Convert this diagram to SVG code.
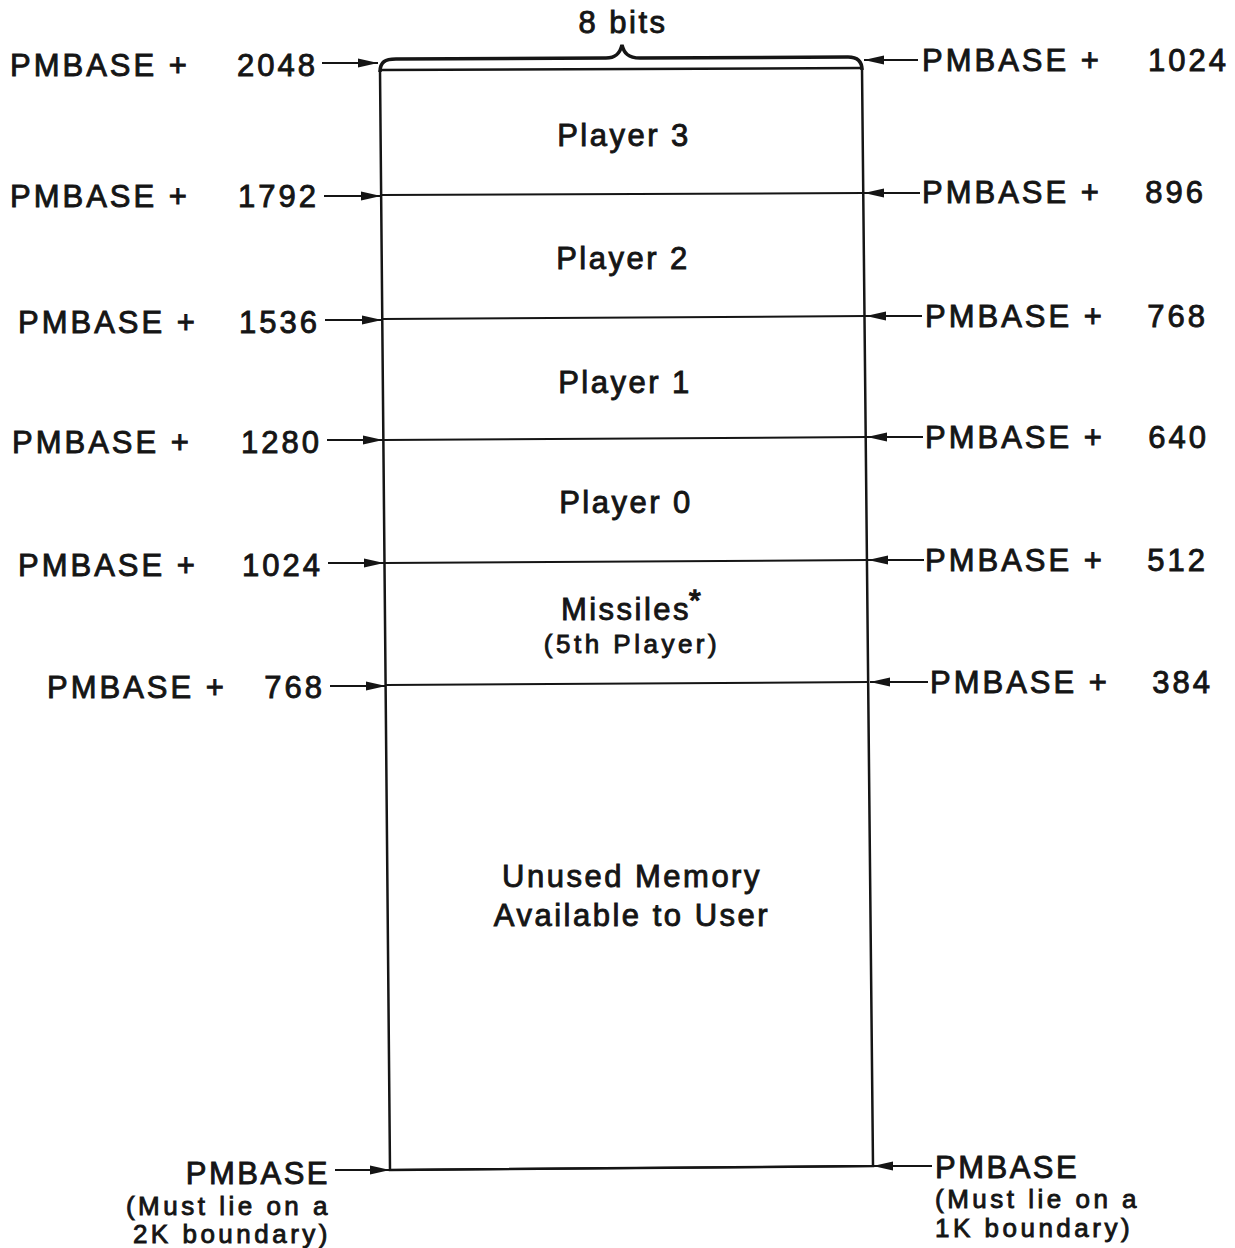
<svg xmlns="http://www.w3.org/2000/svg" width="1235" height="1248" viewBox="0 0 1235 1248">
<defs>
<style>
.t{font-family:"Liberation Sans",Arial,sans-serif;font-size:31px;fill:#151515;stroke:#151515;stroke-width:0.9;letter-spacing:3px}
.c{letter-spacing:2.5px}
.s{font-size:26px;letter-spacing:3.5px}
.e{text-anchor:end}
.m{text-anchor:middle}
.ln{stroke:#151515;stroke-width:2;fill:none}
.bx{stroke:#151515;stroke-width:2.5;fill:none}
</style>
<marker id="ah" viewBox="0 0 20 10" refX="20" refY="5" markerWidth="20" markerHeight="10" markerUnits="userSpaceOnUse" orient="auto">
<path d="M0,0.5 L20,5 L0,9.5 Z" fill="#151515"/>
</marker>
</defs>
<rect width="1235" height="1248" fill="#fff"/>

<g id="memory-box">
<path class="bx" d="M380,70 L390,1170 L873,1166 L862,68"/>
<path class="bx" d="M380,70 L862,68"/>
<path d="M380,72 C380,62 385,59 396,59 L606,58 C616,58 620,53 622,45 C624,53 628,58 640,58 L848,57 C858,57 862,62 862,70" stroke="#151515" stroke-width="3.5" fill="none"/>
<text class="t m c" x="623" y="33">8 bits</text>
</g>

<g id="player3"><text class="t m c" x="624" y="146">Player 3</text></g>
<g id="player2"><text class="t m c" x="623" y="269">Player 2</text></g>
<g id="player1"><text class="t m c" x="625" y="393">Player 1</text></g>
<g id="player0"><text class="t m c" x="626" y="513">Player 0</text></g>
<g id="missiles">
<text class="t m c" x="626" y="620">Missiles</text>
<text class="t" x="689" y="610" style="font-size:30px;stroke-width:1.4">*</text>
<text class="t m s" x="632" y="653">(5th Player)</text>
</g>
<g id="unused">
<text class="t m c" x="632" y="887">Unused Memory</text>
<text class="t m c" x="632" y="926">Available to User</text>
</g>

<g id="connectors">
<path class="ln" d="M381,195 L864,193"/>
<path class="ln" d="M382,319 L866,316"/>
<path class="ln" d="M383,440 L867,437"/>
<path class="ln" d="M384,563 L868,560"/>
<path class="ln" d="M386,685 L869,682"/>
<path class="ln" d="M390,1170 L873,1166"/>

<path class="ln" marker-end="url(#ah)" d="M322,63 L378,63"/>
<path class="ln" marker-end="url(#ah)" d="M324,196 L381,196"/>
<path class="ln" marker-end="url(#ah)" d="M325,320 L382,320"/>
<path class="ln" marker-end="url(#ah)" d="M327,440 L383,440"/>
<path class="ln" marker-end="url(#ah)" d="M328,563 L384,563"/>
<path class="ln" marker-end="url(#ah)" d="M330,686 L386,686"/>
<path class="ln" marker-end="url(#ah)" d="M335,1170 L390,1170"/>

<path class="ln" marker-end="url(#ah)" d="M918,60 L864,60"/>
<path class="ln" marker-end="url(#ah)" d="M920,193 L864,193"/>
<path class="ln" marker-end="url(#ah)" d="M922,316 L866,316"/>
<path class="ln" marker-end="url(#ah)" d="M923,437 L867,437"/>
<path class="ln" marker-end="url(#ah)" d="M924,560 L868,560"/>
<path class="ln" marker-end="url(#ah)" d="M928,682 L870,682"/>
<path class="ln" marker-end="url(#ah)" d="M932,1166 L873,1166"/>
</g>

<g id="left-labels">
<text class="t" x="10" y="76">PMBASE +</text><text class="t e" x="318" y="76">2048</text>
<text class="t" x="10" y="207">PMBASE +</text><text class="t e" x="319" y="207">1792</text>
<text class="t" x="18" y="333">PMBASE +</text><text class="t e" x="320" y="333">1536</text>
<text class="t" x="12" y="453">PMBASE +</text><text class="t e" x="322" y="453">1280</text>
<text class="t" x="18" y="576">PMBASE +</text><text class="t e" x="323" y="576">1024</text>
<text class="t" x="47" y="698">PMBASE +</text><text class="t e" x="325" y="698">768</text>
<text class="t e c" x="330" y="1184">PMBASE</text>
<text class="t e s" x="331" y="1215">(Must lie on a</text>
<text class="t e s" x="331" y="1243">2K boundary)</text>
</g>

<g id="right-labels">
<text class="t" x="922" y="71">PMBASE +</text><text class="t e" x="1229" y="71">1024</text>
<text class="t" x="922" y="203">PMBASE +</text><text class="t e" x="1206" y="203">896</text>
<text class="t" x="925" y="327">PMBASE +</text><text class="t e" x="1208" y="327">768</text>
<text class="t" x="925" y="448">PMBASE +</text><text class="t e" x="1209" y="448">640</text>
<text class="t" x="925" y="571">PMBASE +</text><text class="t e" x="1208" y="571">512</text>
<text class="t" x="930" y="693">PMBASE +</text><text class="t e" x="1213" y="693">384</text>
<text class="t c" x="935" y="1178">PMBASE</text>
<text class="t s" x="935" y="1208">(Must lie on a</text>
<text class="t s" x="935" y="1237">1K boundary)</text>
</g>
</svg>
